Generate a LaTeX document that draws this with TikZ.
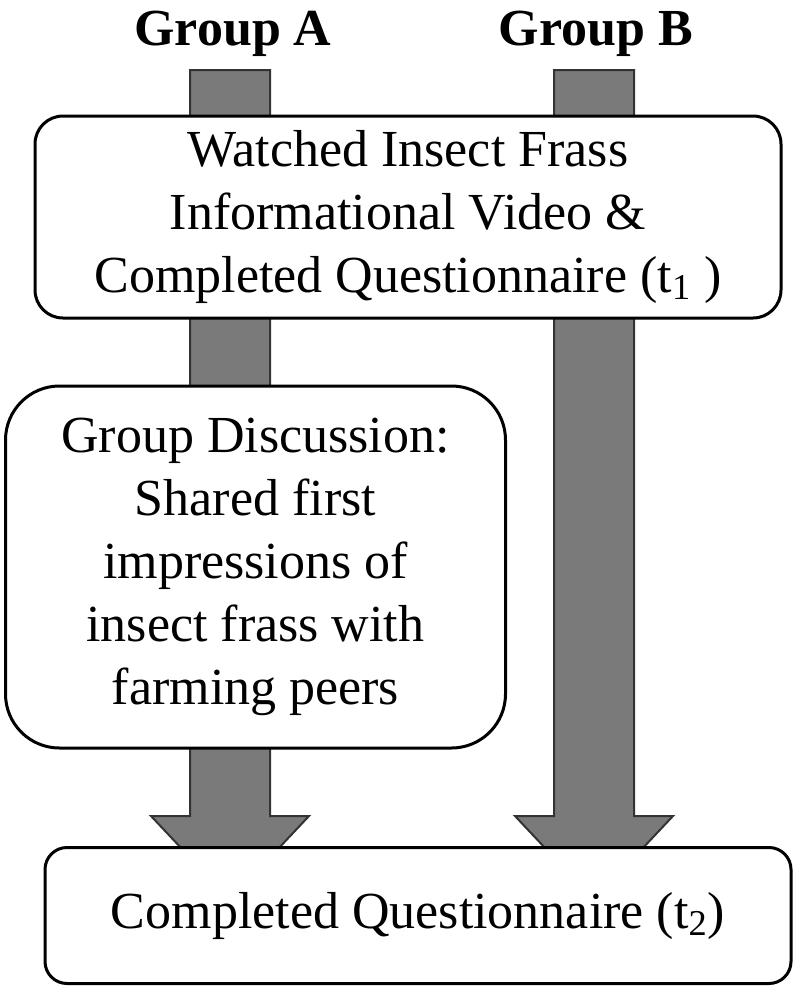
\documentclass[tikz,border=0pt]{standalone}
\usepackage{fontspec}
\setmainfont{Liberation Serif}

\begin{document}
\begin{tikzpicture}[x=0.5pt,y=0.5pt,
    box/.style={draw,line width=1.5pt,fill=white,align=center,inner sep=0pt,
        font=\fontsize{26}{31.5}\selectfont},
    fat/.style={fill=black!52,draw=black!80,line width=1pt,line join=miter}]
    \useasboundingbox (0,0) rectangle (800,-992);
    \node[anchor=base,font=\fontsize{26}{31}\selectfont\bfseries] (lblA) at (233,-45) {Group A};
    \node[anchor=base,font=\fontsize{26}{31}\selectfont\bfseries] (lblB) at (596,-45) {Group B};
    \coordinate (tA) at (230,-70);
    \coordinate (hA) at (230,-900);
    \coordinate (tB) at (594,-70);
    \coordinate (hB) at (594,-900);
    \draw[fat] (tA) ++(-40,0) -- ++(80,0) -- ++(0,-746) -- ++(39,0) -- (hA) -- ++(-79,84) -- ++(39,0) -- cycle;
    \draw[fat] (tB) ++(-40,0) -- ++(80,0) -- ++(0,-746) -- ++(39,0) -- (hB) -- ++(-79,84) -- ++(39,0) -- cycle;
    \node[box,rounded corners=14pt,minimum width=373pt,minimum height=101pt] (video) at (408,-217)
        {Watched Insect Frass\\Informational Video \&\\Completed Questionnaire (t\textsubscript{1} )};
    \node[box,rounded corners=27pt,minimum width=250pt,minimum height=181pt] (discuss) at (255.5,-567)
        {Group Discussion:\\Shared first\\impressions of\\insect frass with\\farming peers};
    \node[box,rounded corners=11pt,minimum width=373pt,minimum height=68pt] (quest) at (418,-915.5)
        {Completed Questionnaire (t\textsubscript{2})};
\end{tikzpicture}
\end{document}
